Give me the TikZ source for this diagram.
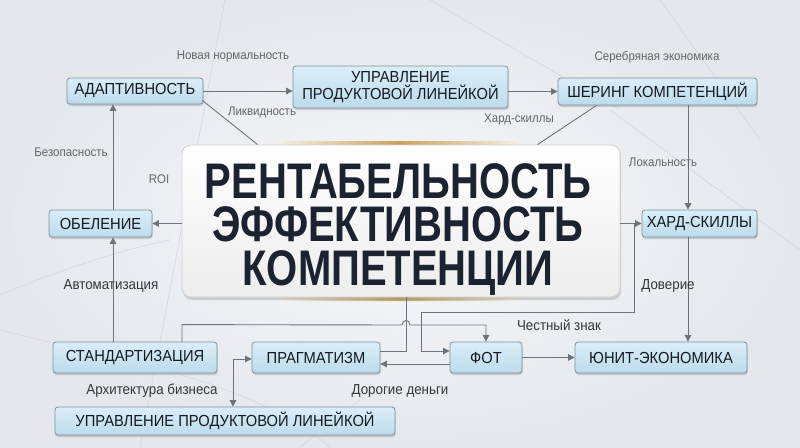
\documentclass[tikz,border=0pt]{standalone}
\usepackage{fontspec}
\setmainfont{Liberation Sans}
\newfontfamily\nodefont[FakeStretch=0.92]{Liberation Sans}
\newfontfamily\titlefont[FakeStretch=0.8]{Liberation Sans}
\newfontfamily\labfont[FakeStretch=0.92]{Liberation Sans}
\usetikzlibrary{arrows.meta,shadows,calc}
\definecolor{bgout}{HTML}{E4E7EC}
\definecolor{bgin}{HTML}{F8F9FB}
\definecolor{boxtop}{HTML}{DAEEF9}
\definecolor{boxbot}{HTML}{BDDBEC}
\definecolor{boxline}{HTML}{7F909C}
\definecolor{txtdark}{HTML}{16191E}
\definecolor{titlecol}{HTML}{1B2230}
\definecolor{arrcol}{HTML}{6C737A}
\definecolor{labtop}{HTML}{62666C}
\definecolor{labbot}{HTML}{33363B}
\definecolor{goldc}{HTML}{C8A45C}
\definecolor{faint}{HTML}{D2D6DD}
\tikzset{
  box/.style={draw=boxline, line width=0.8pt, rounded corners=3pt,
    top color=boxtop, bottom color=boxbot, text=txtdark, inner sep=0pt,
    font={\nodefont\fontsize{16}{18}\selectfont}, align=center,
    drop shadow={opacity=0.3, shadow xshift=0.6pt, shadow yshift=-2pt, fill=black!55}},
  bigbox/.style={draw=black!18, line width=0.8pt, rounded corners=9pt,
    top color=white, bottom color=black!7, inner sep=0pt,
    drop shadow={opacity=0.3, shadow xshift=1pt, shadow yshift=-3pt, fill=black!50}},
  titletxt/.style={text=titlecol, inner sep=0pt, anchor=base,
    font={\titlefont\bfseries\fontsize{50}{50}\selectfont}},
  labsmall/.style={text=labtop, inner sep=0pt, font={\labfont\fontsize{12.5}{14}\selectfont}},
  labbig/.style={text=labbot, inner sep=0pt, font={\labfont\fontsize{14.5}{16}\selectfont}},
  arr/.style={draw=arrcol, line width=0.9pt, -{Triangle[length=6.5pt,width=6.5pt]}},
  arrboth/.style={draw=arrcol, line width=0.9pt, {Triangle[length=6.5pt,width=6.5pt]}-{Triangle[length=6.5pt,width=6.5pt]}},
  plain/.style={draw=arrcol, line width=0.9pt},
  deco/.style={draw=faint, line width=0.7pt, opacity=0.8}
}
\begin{document}
\begin{tikzpicture}[x=1pt,y=-1pt]
\useasboundingbox (0,0) rectangle (800,447);
% background
\shade[inner color=bgin, outer color=bgout] (0,0) rectangle (800,447);
\draw[deco] (225,0) -- (140,447);
\draw[deco] (0,295) .. controls (60,270) and (120,250) .. (170,240);
\draw[deco] (0,330) .. controls (120,360) and (250,380) .. (330,447);
\draw[deco] (430,0) -- (620,110);
\draw[deco] (610,110) -- (800,250);
\draw[deco] (660,0) -- (760,140);
\draw[deco] (300,447) -- (360,400);
% gold strips behind centre box
\shade[left color=goldc!15, right color=goldc!15, middle color=goldc, rounded corners=2pt] (275,141) rectangle (523,150);
\shade[left color=goldc!15, right color=goldc!15, middle color=goldc, rounded corners=2pt] (280,292) rectangle (518,301);
% centre
\node[bigbox, minimum width=438pt, minimum height=152pt] (center) at (401,221) {};
\node[titletxt] (t1) at (398,198) {РЕНТАБЕЛЬНОСТЬ};
\node[titletxt] (t2) at (398,241.5) {ЭФФЕКТИВНОСТЬ};
\node[titletxt] (t3) at (398,285) {КОМПЕТЕНЦИИ};
% boxes
\node[box, minimum width=136pt, minimum height=26pt] (adapt) at (135,91) {АДАПТИВНОСТЬ};
\node[box, minimum width=215pt, minimum height=42pt, font={\nodefont\fontsize{16}{17}\selectfont}] (upr1) at (400.5,87) {УПРАВЛЕНИЕ\\ПРОДУКТОВОЙ ЛИНЕЙКОЙ};
\node[box, minimum width=199pt, minimum height=27pt] (shar) at (657.5,91.5) {ШЕРИНГ КОМПЕТЕНЦИЙ};
\node[box, minimum width=103pt, minimum height=27pt] (obel) at (100.5,223.5) {ОБЕЛЕНИЕ};
\node[box, minimum width=115pt, minimum height=27pt] (hard) at (699.5,223.5) {ХАРД-СКИЛЛЫ};
\node[box, minimum width=164pt, minimum height=31pt] (stand) at (135,357.5) {СТАНДАРТИЗАЦИЯ};
\node[box, minimum width=128pt, minimum height=31pt] (prag) at (316,357.5) {ПРАГМАТИЗМ};
\node[box, minimum width=72pt, minimum height=31pt] (fot) at (486,357.5) {ФОТ};
\node[box, minimum width=172pt, minimum height=31pt] (unit) at (661,357.5) {ЮНИТ-ЭКОНОМИКА};
\node[box, minimum width=340pt, minimum height=28pt] (upr2) at (225,421) {УПРАВЛЕНИЕ ПРОДУКТОВОЙ ЛИНЕЙКОЙ};
% helper coordinates
\coordinate (vl) at (113,0);
\coordinate (vr) at (688,0);
\coordinate (vb) at (233,0);
\coordinate (j1) at (634,223.5);
% connectors
\draw[arr] (adapt.east) -- (adapt.east -| upr1.west);
\draw[arr] (upr1.east |- shar.west) -- (shar.west);
\draw[arr] (shar.south -| vr) -- (hard.north -| vr);
\draw[arr] (hard.south -| vr) -- (unit.north -| vr);
\draw[arr] (center.west |- obel.east) -- (obel.east);
\draw[arr] (center.east |- hard.west) -- (hard.west);
\draw[arr] (stand.north -| vl) -- (obel.south -| vl);
\draw[arr] (obel.north -| vl) -- (adapt.south -| vl);
\draw[plain] ([xshift=-1pt,yshift=4pt]adapt.south east) -- ([xshift=76pt]center.north west);
\draw[plain] ([xshift=39pt]shar.south west) -- ([xshift=-83pt]center.north east);
\draw[arr] (j1) |- (421,312) |- ([yshift=6.5pt]fot.west);
\draw[plain] ([xshift=5pt]center.south) |- ([yshift=6.5pt]prag.east);
\draw[arr] ([xshift=47pt]stand.north) -- ++(0,-17) -- (402,325) .. controls (402,319) and (410,319) .. (410,325) -| (fot.north);
\draw[arr] ([yshift=-6.5pt]fot.west) -- ([yshift=-6.5pt]fot.west -| prag.east);
\draw[arr] (fot.east) -- (fot.east -| unit.west);
\draw[arrboth] ([yshift=-1.5pt]prag.west) -| (upr2.north -| vb);
% labels
\node[labsmall] (l1) at (233,56) {Новая нормальность};
\node[labsmall] (l2) at (262,112) {Ликвидность};
\node[labsmall] (l3) at (657,57) {Серебряная экономика};
\node[labsmall] (l4) at (519,119) {Хард-скиллы};
\node[labsmall] (l5) at (71,152) {Безопасность};
\node[labsmall] (l6) at (159,179) {ROI};
\node[labsmall] (l7) at (663,162) {Локальность};
\node[labbig] (l8) at (111,286) {Автоматизация};
\node[labbig] (l9) at (668,286) {Доверие};
\node[labbig] (l10) at (559,325) {Честный знак};
\node[labbig] (l11) at (152,391) {Архитектура бизнеса};
\node[labbig] (l12) at (400,391) {Дорогие деньги};
\end{tikzpicture}
\end{document}
